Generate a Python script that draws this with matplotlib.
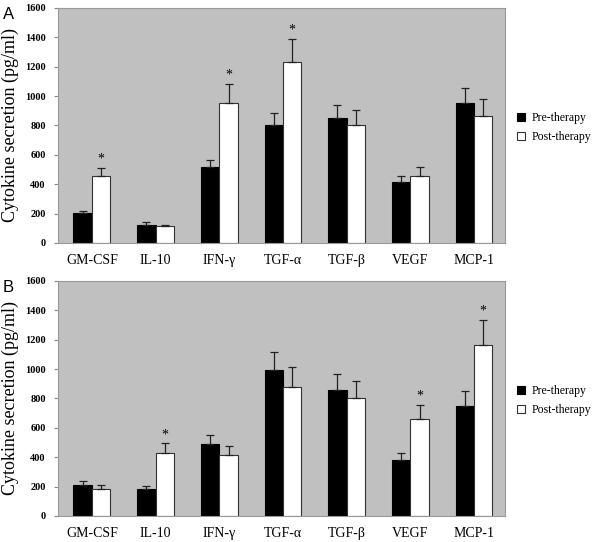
import matplotlib
matplotlib.use("Agg")
import matplotlib.pyplot as plt
import numpy as np

cytokines = ["GM-CSF", "IL-10", "IFN-\u03b3", "TGF-\u03b1", "TGF-\u03b2", "VEGF", "MCP-1"]

# Panel A
a_pre = [203, 122, 515, 800, 852, 414, 955]
a_pre_err = [17, 18, 52, 82, 84, 41, 102]
a_post = [455, 116, 955, 1232, 800, 455, 866]
a_post_err = [56, 7, 128, 158, 108, 62, 114]
a_star = [True, False, True, True, False, False, False]

# Panel B
b_pre = [213, 181, 490, 992, 857, 382, 748]
b_pre_err = [27, 20, 64, 127, 110, 48, 100]
b_post = [186, 432, 415, 880, 800, 661, 1164]
b_post_err = [25, 63, 62, 134, 122, 98, 170]
b_star = [False, True, False, False, False, True, True]

plt.rcParams['font.family'] = ['Liberation Serif', 'DejaVu Serif']

fig = plt.figure(figsize=(6, 5.42), dpi=100)

def draw_panel(rect, letter, pre, pre_err, post, post_err, star):
    ax = fig.add_axes(rect)
    ax.set_facecolor('#c0c0c0')
    x = np.arange(len(cytokines))
    w = 0.29
    ax.bar(x - w / 2, pre, w, color='black', edgecolor='black', linewidth=0.8,
           label='Pre-therapy', zorder=2)
    ax.bar(x + w / 2, post, w, color='white', edgecolor='#333333', linewidth=0.8,
           label='Post-therapy', zorder=2)
    # upward-only error bars
    ax.errorbar(x - w / 2, pre, yerr=[np.zeros(len(pre)), pre_err], fmt='none',
                ecolor='#222222', elinewidth=0.9, capsize=3, capthick=0.9, zorder=3)
    ax.errorbar(x + w / 2, post, yerr=[np.zeros(len(post)), post_err], fmt='none',
                ecolor='#222222', elinewidth=0.9, capsize=3, capthick=0.9, zorder=3)
    for i, s in enumerate(star):
        if s:
            ax.text(x[i] + w / 2, post[i] + post_err[i] + 15, '*', ha='center',
                    va='bottom', fontsize=10)
    ax.set_xlim(-0.53, 6.49)
    ax.set_ylim(0, 1600)
    ax.set_yticks(range(0, 1601, 200))
    ax.set_xticks(x)
    ax.set_xticklabels(cytokines, fontsize=10)
    for lab in ax.get_yticklabels():
        lab.set_fontsize(7.5)
        lab.set_fontweight('bold')
    ax.tick_params(axis='x', length=0, pad=8)
    ax.tick_params(axis='y', length=3, width=0.8, color='#888888', pad=6)
    for sp in ax.spines.values():
        sp.set_color('#999999')
        sp.set_linewidth(0.8)
    ax.set_ylabel('Cytokine secretion (pg/ml)', fontsize=13, labelpad=4)
    ax.legend(loc='center left', bbox_to_anchor=(1.0, 0.49), frameon=False,
              fontsize=8.5, handlelength=0.7, handleheight=0.7, handletextpad=0.5,
              labelspacing=0.6, borderaxespad=0.6)
    fig.text(0.005, rect[1] + rect[3] + 0.002, letter, family='Liberation Sans',
             fontsize=12, va='top', ha='left')
    return ax

draw_panel([0.097, 0.5517, 0.745, 0.4336], 'A', a_pre, a_pre_err, a_post, a_post_err, a_star)
draw_panel([0.097, 0.048, 0.745, 0.4336], 'B', b_pre, b_pre_err, b_post, b_post_err, b_star)

fig.savefig('out.png', dpi=100)
